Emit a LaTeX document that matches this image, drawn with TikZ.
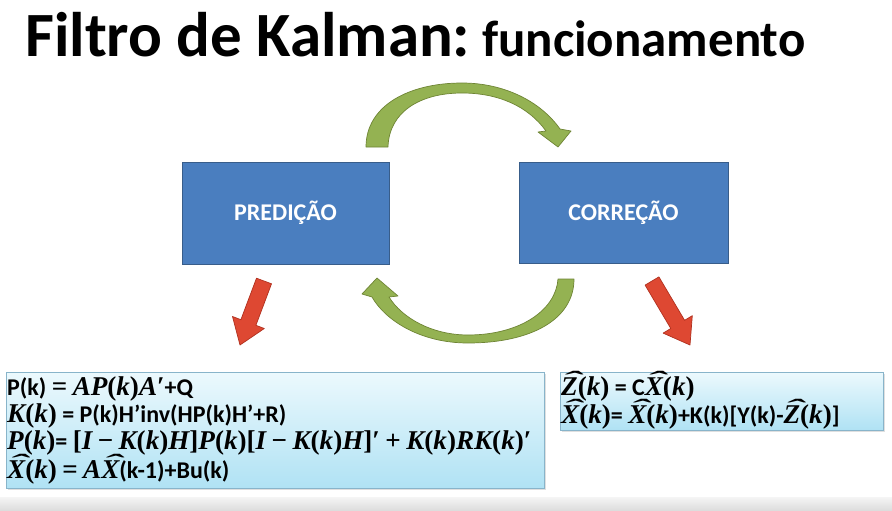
\documentclass[tikz,border=0pt]{standalone}
\usepackage{fontspec}
\usepackage{graphicx}
\setmainfont{Carlito}
\newfontfamily\eqserif[Scale=1.13]{Liberation Serif}
\usetikzlibrary{shadows}

% equation pieces: bold italic variables and bold upright operators
\newcommand\mv[1]{{\eqserif\bfseries\itshape #1}}
\newcommand\mo[1]{{\eqserif\bfseries #1}}
\newcommand\hatted[1]{\ooalign{#1\cr\hidewidth\kern0.16em\raisebox{0.28em}{\scalebox{2.1}[0.85]{\eqserif\bfseries\char"02C6}}\hidewidth\cr}}
\newcommand\Xh{\mv{\hatted{X}}}
\newcommand\Zh{\mv{\hatted{Z}}}
\newcommand\pk[1]{\mo{(}\mv{#1}\mo{)}}

\definecolor{stepblue}{RGB}{74,126,191}
\definecolor{stepblueedge}{RGB}{56,93,138}
\definecolor{loopgreen}{RGB}{148,178,82}
\definecolor{loopgreenedge}{RGB}{110,132,52}
\definecolor{downred}{RGB}{222,72,50}
\definecolor{downrededge}{RGB}{176,48,30}
\definecolor{boxtop}{RGB}{236,249,253}
\definecolor{boxbottom}{RGB}{176,226,244}
\definecolor{boxedge}{RGB}{136,180,202}

\tikzset{
  stepbox/.style={draw=stepblueedge, line width=0.8pt, fill=stepblue, text=white,
    font=\fontsize{24}{24}\selectfont\bfseries},
  formbox/.style={draw=boxedge, line width=0.8pt, top color=boxtop, bottom color=boxbottom,
    drop shadow={opacity=0.25, shadow xshift=2pt, shadow yshift=-2pt}},
  formline/.style={inner sep=0pt, anchor=base west,
    font=\fontsize{24}{28}\selectfont\bfseries},
  looparrow/.style={fill=loopgreen, draw=loopgreenedge, line width=0.7pt, line join=round},
  downarrow/.style={fill=downred, draw=downrededge, line width=0.7pt, line join=round},
}

\begin{document}
\begin{tikzpicture}[x=1pt, y=-1pt]
\useasboundingbox (0,0) rectangle (892,511);
\fill[white] (0,0) rectangle (892,511);
\shade[top color=gray!8, bottom color=gray!28] (0,497) rectangle (892,511);

% title
\node[inner sep=0pt, anchor=base west] (title) at (25,57)
  {\bfseries{\fontsize{63}{63}\selectfont Filtro de Kalman:}\hspace{12pt}{\fontsize{51}{51}\selectfont funcionamento}};

% the two steps
\node[stepbox, minimum width=207pt, minimum height=102pt] (pred) at (285.5,213) {PREDIÇÃO};
\node[stepbox, minimum width=209pt, minimum height=101pt] (corr) at (623.5,212.5) {CORREÇÃO};

% curved arrow: prediction -> correction
\draw[looparrow] (366,147) .. controls (366,105) and (410,83) .. (462,83)
  .. controls (505,83) and (541,102) .. (560,129) -- (571,131) -- (558,147) -- (538,132) -- (546,131)
  .. controls (528,106) and (498,93) .. (462,93)
  .. controls (420,93) and (389,112) .. (388,147) -- cycle;

% curved arrow: correction -> prediction
\draw[looparrow] (574,279) .. controls (574,320) and (530,343) .. (468,343)
  .. controls (420,343) and (385,320) .. (372,297) -- (362,294) -- (377,278) -- (398,296) -- (389,297)
  .. controls (402,318) and (432,335) .. (468,335)
  .. controls (520,335) and (556,310) .. (558,279) -- cycle;

% arrows down to the equations
\draw[downarrow] (256.5,278.2) -- (271.5,283.8) -- (255.9,325.3) -- (264.3,328.5) -- (240,345)
  -- (232.5,316.5) -- (240.9,319.7) -- cycle;
\draw[downarrow] (658.9,276.9) -- (684.6,320.3) -- (692.3,315.7) -- (690,345) -- (663.1,333.1)
  -- (670.8,328.5) -- (645.1,285.1) -- cycle;

% prediction equations
\node[formbox, minimum width=538pt, minimum height=116pt] (predeq) at (275,430) {};
\node[formline] (p1) at (7,395) {P(k) \mo{=} \mv{AP}\pk{k}\mv{A}\mo{\char"2032}+Q};
\node[formline] (p2) at (7,422) {\mv{K}\pk{k} = P(k)H’inv(HP(k)H’+R)};
\node[formline] (p3) at (7,449) {\mv{P}\pk{k}= \mo{[}\mv{I} \mo{\char"2212} \mv{K}\pk{k}\mv{H}\mo{]}\mv{P}\pk{k}\mo{[}\mv{I} \mo{\char"2212} \mv{K}\pk{k}\mv{H}\mo{]\char"2032} \mo{+} \mv{K}\pk{k}\mv{RK}\pk{k}\mo{\char"2032}};
\node[formline] (p4) at (7,478) {\Xh\pk{k} \mo{=} \mv{A}\Xh(k-1)+Bu(k)};

% correction equations
\node[formbox, minimum width=323pt, minimum height=58pt] (correq) at (721.5,401) {};
\node[formline] (c1) at (561,395) {\Zh\pk{k} = C\Xh\pk{k}};
\node[formline] (c2) at (561,423) {\Xh\pk{k}= \Xh\pk{k}+K(k)[Y(k)-\Zh\pk{k}]};
\end{tikzpicture}
\end{document}
